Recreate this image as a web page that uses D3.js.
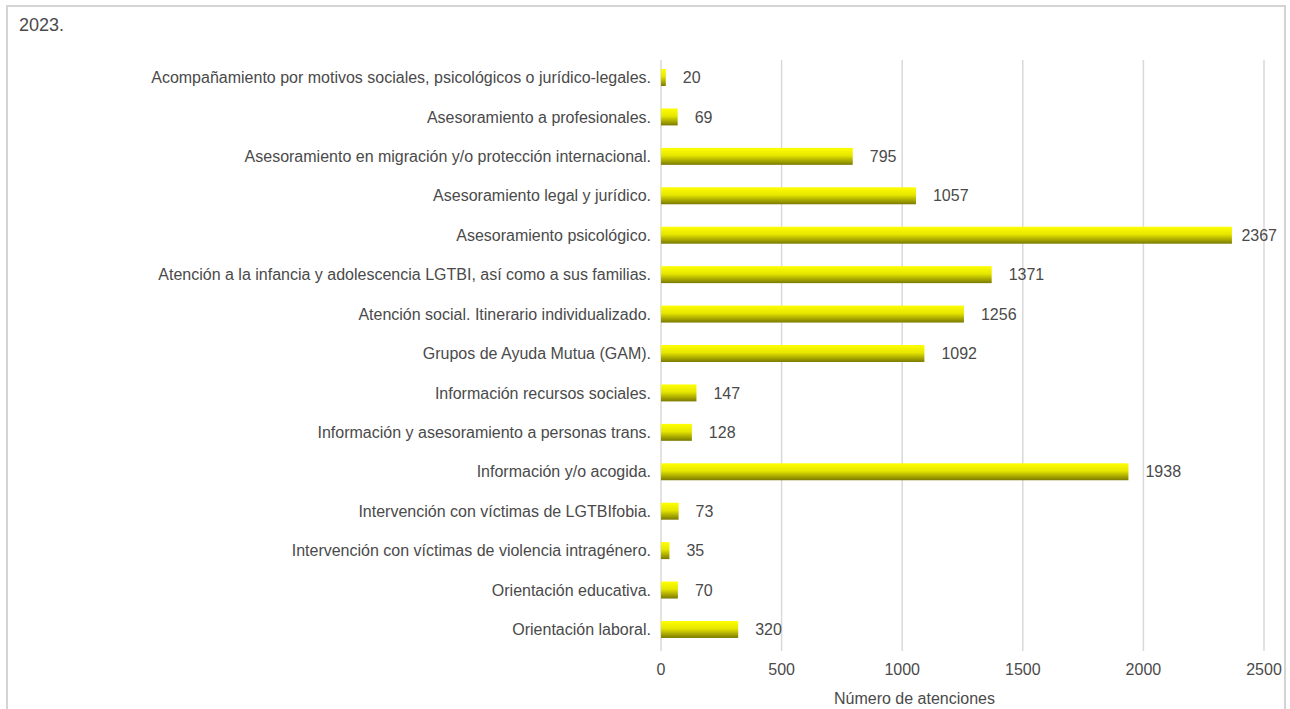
<!DOCTYPE html>
<html>
<head>
<meta charset="utf-8">
<script src="https://cdn.jsdelivr.net/npm/d3@7"></script>
<style>
    body { margin: 0; background: #fff; font-family: "Liberation Sans", Arial, sans-serif; }
    text { fill: #4a4a4a; }
</style>
</head>
<body>
<div id="chart"></div>
<script>
var categories = [
    "Acompañamiento por motivos sociales, psicológicos o jurídico-legales.",
    "Asesoramiento a profesionales.",
    "Asesoramiento en migración y/o protección internacional.",
    "Asesoramiento legal y jurídico.",
    "Asesoramiento psicológico.",
    "Atención a la infancia y adolescencia LGTBI, así como a sus familias.",
    "Atención social. Itinerario individualizado.",
    "Grupos de Ayuda Mutua (GAM).",
    "Información recursos sociales.",
    "Información y asesoramiento a personas trans.",
    "Información y/o acogida.",
    "Intervención con víctimas de LGTBIfobia.",
    "Intervención con víctimas de violencia intragénero.",
    "Orientación educativa.",
    "Orientación laboral."
];
var values = [20, 69, 795, 1057, 2367, 1371, 1256, 1092, 147, 128, 1938, 73, 35, 70, 320];
var xTicks = [0, 500, 1000, 1500, 2000, 2500];
var title = "2023.";
var axisTitle = "Número de atenciones";

var W = 1290, H = 709;
var margin = {top: 58, right: 26, bottom: 60, left: 661};

var svg = d3.select("#chart").append("svg")
    .attr("width", W)
    .attr("height", H);

// gradient for the bars
var grad = svg.append("defs").append("linearGradient")
    .attr("id", "barGrad")
    .attr("x1", 0).attr("y1", 0).attr("x2", 0).attr("y2", 1);
grad.append("stop").attr("offset", "0%").attr("stop-color", "#ffff00");
grad.append("stop").attr("offset", "45%").attr("stop-color", "#e6e600");
grad.append("stop").attr("offset", "100%").attr("stop-color", "#7a7a00");

// frame
svg.append("rect")
    .attr("x", 7).attr("y", 6)
    .attr("width", 1278).attr("height", 720)
    .attr("fill", "none")
    .attr("stroke", "#d4d4d4")
    .attr("stroke-width", 2);

svg.append("text")
    .attr("x", 19).attr("y", 31)
    .style("font-size", "18px")
    .text(title);

var x = d3.scaleLinear()
    .domain([0, 2500])
    .range([margin.left, 1264]);

var y = d3.scaleBand()
    .domain(categories)
    .range([margin.top, H - margin.bottom])
    .paddingInner(0.57)
    .paddingOuter(0.28);

// gridlines
svg.append("g")
    .selectAll("line")
    .data(xTicks)
    .enter().append("line")
    .attr("x1", function (d) { return x(d); })
    .attr("x2", function (d) { return x(d); })
    .attr("y1", 60)
    .attr("y2", 651)
    .attr("stroke", "#d9d9d9")
    .attr("stroke-width", 1.5);

// tick labels
svg.append("g")
    .selectAll("text")
    .data(xTicks)
    .enter().append("text")
    .attr("x", function (d) { return x(d); })
    .attr("y", 675)
    .attr("text-anchor", "middle")
    .style("font-size", "16px")
    .text(function (d) { return d; });

svg.append("text")
    .attr("x", (x(0) + x(2500)) / 2 - 48)
    .attr("y", 704)
    .attr("text-anchor", "middle")
    .style("font-size", "16px")
    .text(axisTitle);

// category labels
svg.append("g")
    .selectAll("text")
    .data(categories)
    .enter().append("text")
    .attr("x", 651)
    .attr("y", function (d) { return y(d) + y.bandwidth() / 2; })
    .attr("dy", "0.35em")
    .attr("text-anchor", "end")
    .style("font-size", "16px")
    .text(function (d) { return d; });

// bars
svg.append("g")
    .selectAll("rect")
    .data(values)
    .enter().append("rect")
    .attr("x", x(0))
    .attr("y", function (d, i) { return y(categories[i]); })
    .attr("width", function (d) { return x(d) - x(0); })
    .attr("height", y.bandwidth())
    .attr("fill", "url(#barGrad)");

// value labels
var labels = svg.append("g")
    .selectAll("text")
    .data(values)
    .enter().append("text")
    .attr("y", function (d, i) { return y(categories[i]) + y.bandwidth() / 2; })
    .attr("dy", "0.35em")
    .style("font-size", "16px")
    .text(function (d) { return d; });

labels.attr("x", function (d) {
    var w = this.getComputedTextLength();
    return Math.min(x(d) + 17, 1277 - w);
});
</script>
</body>
</html>
